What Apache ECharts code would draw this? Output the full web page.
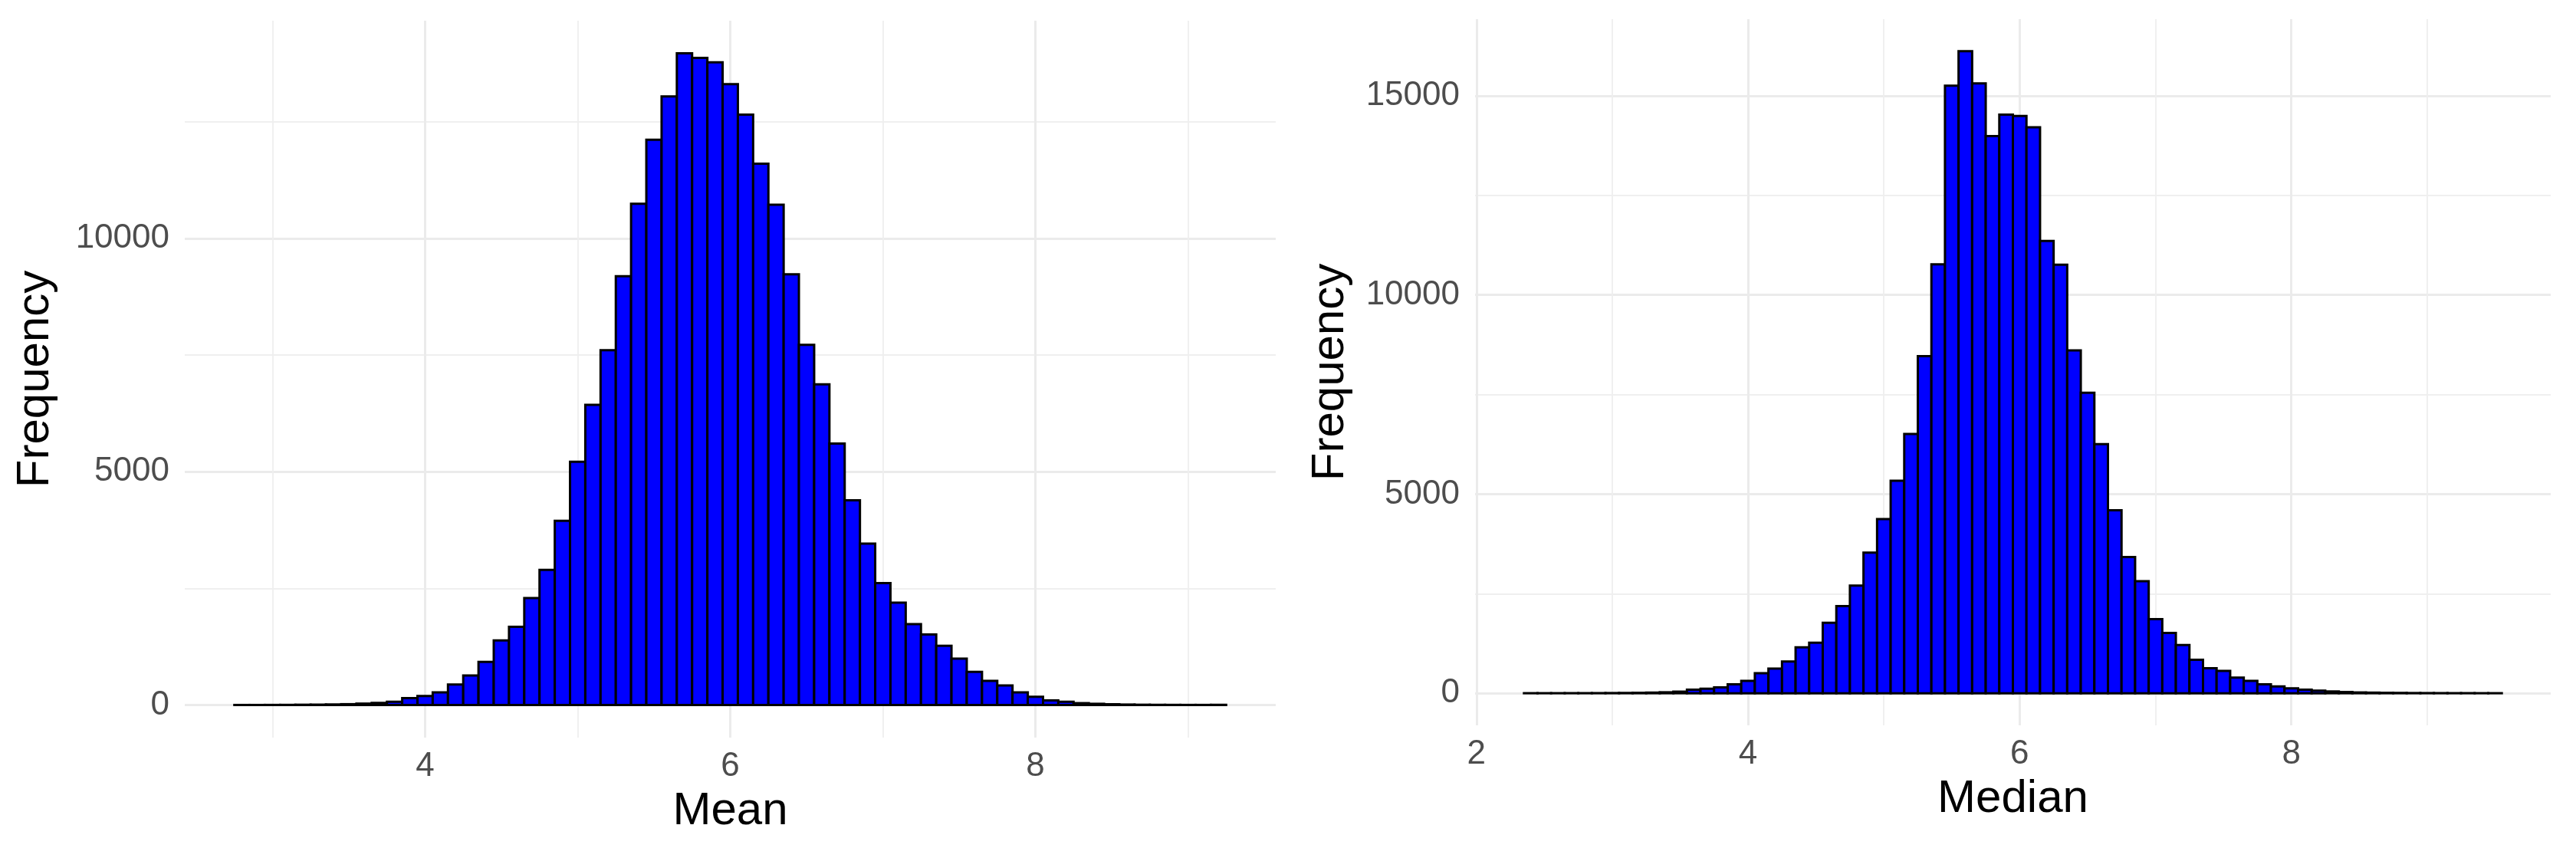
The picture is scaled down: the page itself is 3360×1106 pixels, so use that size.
<!DOCTYPE html>
<html>
<head>
<meta charset="utf-8">
<title>Mean / Median histograms</title>
<script src="https://cdn.jsdelivr.net/npm/echarts@6/dist/echarts.min.js"></script>
<style>
  html, body { margin: 0; padding: 0; background: #fff; }
  #chart { width: 3360px; height: 1106px; }
</style>
</head>
<body>
<div id="chart"></div>
<script>
// bin centres (binwidth 0.1) and counts
const meanBins = [2.8, 2.9, 3.0, 3.1, 3.2, 3.3, 3.4, 3.5, 3.6, 3.7, 3.8, 3.9,
  4.0, 4.1, 4.2, 4.3, 4.4, 4.5, 4.6, 4.7, 4.8, 4.9,
  5.0, 5.1, 5.2, 5.3, 5.4, 5.5, 5.6, 5.7, 5.8, 5.9,
  6.0, 6.1, 6.2, 6.3, 6.4, 6.5, 6.6, 6.7, 6.8, 6.9,
  7.0, 7.1, 7.2, 7.3, 7.4, 7.5, 7.6, 7.7, 7.8, 7.9,
  8.0, 8.1, 8.2, 8.3, 8.4, 8.5, 8.6, 8.7, 8.8, 8.9,
  9.0, 9.1, 9.2];
const meanCounts = [1, 1, 2, 3, 6, 8, 12, 18, 30, 45, 70, 146,
  195, 273, 438, 634, 926, 1384, 1677, 2291, 2896, 3949,
  5216, 6434, 7605, 9193, 10743, 12118, 13045, 13970, 13872, 13775,
  13308, 12655, 11602, 10724, 9233, 7721, 6873, 5606, 4387, 3461,
  2613, 2194, 1735, 1512, 1268, 994, 712, 517, 419, 273,
  176, 97, 68, 40, 26, 16, 10, 6, 4, 3,
  2, 2, 4];

const medianBins = [2.4, 2.5, 2.6, 2.7, 2.8, 2.9, 3.0, 3.1, 3.2, 3.3, 3.4, 3.5, 3.6, 3.7, 3.8, 3.9,
  4.0, 4.1, 4.2, 4.3, 4.4, 4.5, 4.6, 4.7, 4.8, 4.9,
  5.0, 5.1, 5.2, 5.3, 5.4, 5.5, 5.6, 5.7, 5.8, 5.9,
  6.0, 6.1, 6.2, 6.3, 6.4, 6.5, 6.6, 6.7, 6.8, 6.9,
  7.0, 7.1, 7.2, 7.3, 7.4, 7.5, 7.6, 7.7, 7.8, 7.9,
  8.0, 8.1, 8.2, 8.3, 8.4, 8.5, 8.6, 8.7, 8.8, 8.9,
  9.0, 9.1, 9.2, 9.3, 9.4, 9.5];
const medianCounts = [1, 1, 1, 2, 2, 3, 5, 7, 10, 16, 24, 40, 89, 112, 146, 224,
  313, 505, 617, 796, 1155, 1267, 1771, 2186, 2701, 3532,
  4372, 5336, 6512, 8464, 10772, 15256, 16120, 15313, 13989, 14528,
  14494, 14213, 11355, 10761, 8609, 7544, 6255, 4596, 3419, 2813,
  1861, 1514, 1210, 841, 628, 560, 393, 313, 224, 169,
  123, 89, 67, 45, 30, 20, 15, 10, 8, 5,
  4, 3, 2, 2, 1, 1];

const meanXMajor = [4, 6, 8];
const meanXMinor = [3, 5, 7, 9];
const medianXMajor = [2, 4, 6, 8];
const medianXMinor = [3, 5, 7, 9];
const meanYMajor = [0, 5000, 10000];
const medianYMajor = [0, 5000, 10000, 15000];
const yMinor = [2500, 7500, 12500];

const binWidth = 0.1;
const font = "'Liberation Sans', Arial, sans-serif";

// ggplot-like 5% expansion of the data range
const xExtent = (bins) => {
  const lo = bins[0] - binWidth / 2;
  const hi = bins[bins.length - 1] + binWidth / 2;
  const pad = (hi - lo) * 0.05;
  return [lo - pad, hi + pad];
};
const yExtent = (counts) => {
  const hi = Math.max(...counts);
  return [-hi * 0.05, hi * 1.05];
};

const majorLine = { show: true, lineStyle: { color: '#EBEBEB', width: 3 } };
const minorLine = { show: true, lineStyle: { color: '#EFEFEF', width: 1.8 } };

const xAxes = (gridIndex, bins, major, minor, name) => {
  const [min, max] = xExtent(bins);
  return [
    {
      type: 'value', gridIndex, min, max, position: 'bottom',
      name, nameLocation: 'middle', nameGap: 66,
      nameTextStyle: { color: '#000', fontSize: 60, fontFamily: font },
      axisLine: { show: false },
      axisTick: { show: false, customValues: major },
      axisLabel: { customValues: major, color: '#4D4D4D', fontSize: 44, fontFamily: font, margin: 16 },
      splitLine: majorLine
    },
    {
      type: 'value', gridIndex, min, max, position: 'bottom',
      axisLine: { show: false },
      axisTick: { show: false, customValues: minor },
      axisLabel: { show: false },
      splitLine: minorLine
    }
  ];
};

const yAxes = (gridIndex, counts, major, nameGap) => {
  const [min, max] = yExtent(counts);
  return [
    {
      type: 'value', gridIndex, min, max, position: 'left',
      name: 'Frequency', nameLocation: 'middle', nameGap, nameRotate: 90,
      nameTextStyle: { color: '#000', fontSize: 60, fontFamily: font },
      axisLine: { show: false },
      axisTick: { show: false, customValues: major },
      axisLabel: {
        customValues: major, color: '#4D4D4D', fontSize: 44, fontFamily: font, margin: 20,
        formatter: (v) => String(v)
      },
      splitLine: majorLine
    },
    {
      type: 'value', gridIndex, min, max, position: 'left',
      axisLine: { show: false },
      axisTick: { show: false, customValues: yMinor },
      axisLabel: { show: false },
      splitLine: minorLine
    }
  ];
};

const histogram = (xAxisIndex, yAxisIndex, bins, counts) => ({
  type: 'custom',
  xAxisIndex, yAxisIndex,
  data: bins.map((b, i) => [b, counts[i]]),
  renderItem: (params, api) => {
    const x = api.value(0);
    const n = api.value(1);
    const p0 = api.coord([x - binWidth / 2, n]);
    const p1 = api.coord([x + binWidth / 2, 0]);
    return {
      type: 'rect',
      shape: { x: p0[0], y: p0[1], width: p1[0] - p0[0], height: p1[1] - p0[1] },
      style: { fill: '#0000FF', stroke: '#000000', lineWidth: 3 }
    };
  }
});

const chart = echarts.init(document.getElementById('chart'));
chart.setOption({
  backgroundColor: '#ffffff',
  animation: false,
  grid: [
    { left: 241, top: 27, width: 1423, height: 935 },
    { left: 1924, top: 25, width: 1403, height: 921 }
  ],
  xAxis: [
    ...xAxes(0, meanBins, meanXMajor, meanXMinor, 'Mean'),
    ...xAxes(1, medianBins, medianXMajor, medianXMinor, 'Median')
  ],
  yAxis: [
    ...yAxes(0, meanCounts, meanYMajor, 165),
    ...yAxes(1, medianCounts, medianYMajor, 159)
  ],
  series: [
    histogram(0, 0, meanBins, meanCounts),
    histogram(2, 2, medianBins, medianCounts)
  ]
});
</script>
</body>
</html>
